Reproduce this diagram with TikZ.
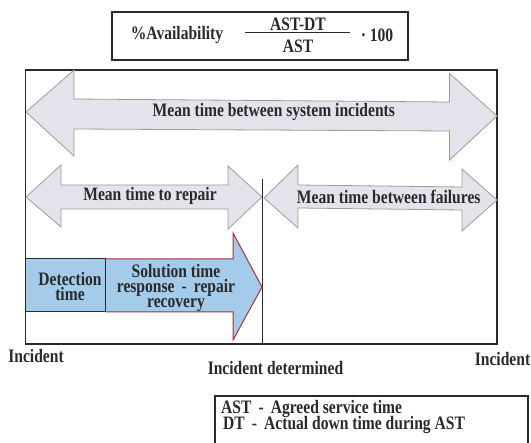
\documentclass[tikz,border=0pt]{standalone}
\usepackage{fontspec}
\setmainfont{Liberation Serif}[FakeStretch=0.82]
\definecolor{gfill}{HTML}{E3E4EB}
\definecolor{gedge}{HTML}{9C9C9C}
\definecolor{bfill}{HTML}{A4CBEA}
\definecolor{redge}{HTML}{A83232}
\definecolor{ink}{HTML}{2A2A2A}
\tikzset{
  lbl/.style={font=\bfseries\fontsize{19}{15}\selectfont, inner sep=0pt, text=ink},
  grayarrow/.style={fill=gfill, draw=gedge, line width=0.8pt, line join=miter},
  framebox/.style={draw=ink, line width=1.2pt},
}
\begin{document}
\begin{tikzpicture}[x=1pt,y=-1pt]
\useasboundingbox (0,0) rectangle (531,443);
% formula box
\draw[framebox] (112,12) rectangle (408,60);
\node[lbl, anchor=base] (avail) at (177,39.5) {\%Availability};
\node[lbl] (num) at (298,24.5) {AST-DT};
\node[lbl] (den) at (298,46) {AST};
\draw[ink, line width=1pt] (245,33) -- (350,33);
\node[lbl, anchor=base] (times) at (377,41.5) {\textperiodcentered\ 100};
% main frame
\draw[framebox] (25.5,70) rectangle (497,344);
% big arrow
\draw[grayarrow] (26,112) -- (74,70) -- (74,99) -- (449.5,102) -- (449.5,73.5) -- (497,116) -- (449.5,160) -- (449.5,131) -- (74,129) -- (74,156) -- cycle;
\node[lbl, anchor=base] (mtbsi) at (273.8,116.8) {Mean time between system incidents};
% MTTR arrow
\draw[grayarrow] (26,197) -- (61,165) -- (61,185) -- (228,185) -- (228,166) -- (262,197) -- (228,229) -- (228,209) -- (61,209) -- (61,227) -- cycle;
\node[lbl, anchor=base] (mttr) at (150,200.3) {Mean time to repair};
% MTBF arrow
\draw[grayarrow] (264,198) -- (298,165) -- (298,185) -- (462,187) -- (462,169) -- (497,200) -- (462,231) -- (462,210) -- (298,208) -- (298,228) -- cycle;
\node[lbl, anchor=base] (mtbf) at (388.7,203.6) {Mean time between failures};
% divider
\coordinate (dtop) at (262,179);
\coordinate (dbot) at (262,344);
\draw[ink, line width=1pt] (dtop) -- (dbot);
% solution arrow
\fill[bfill] (105,259) -- (233,259) -- (233,233) -- (262,287) -- (233,340) -- (233,312) -- (105,312) -- cycle;
\draw[redge, line width=1pt, line join=miter] (105,259) -- (233,259) -- (233,233) -- (262,287) -- (233,340) -- (233,312) -- (105,312);
\draw[ink, fill=bfill, line width=1pt] (25.5,259) rectangle (105,312);
\node[lbl, align=center] (detect) at (70,287) {Detection\\time};
\node[lbl, align=center] (solution) at (176,288) {Solution time\\response \,-\, repair\\recovery};
% bottom labels
\node[lbl, anchor=base] (inc1) at (36,362.5) {Incident};
\node[lbl, anchor=base] (incd) at (275.5,375) {Incident determined};
\node[lbl, anchor=base] (inc2) at (502.5,365.7) {Incident};
% legend
\draw[framebox] (215,396) rectangle (528,470);
\node[lbl, anchor=base west] (ast) at (221,413.3) {AST \,-\, Agreed service time};
\node[lbl, anchor=base west] (dt) at (223,429.5) {DT \,-\, Actual down time during AST};
\end{tikzpicture}
\end{document}
